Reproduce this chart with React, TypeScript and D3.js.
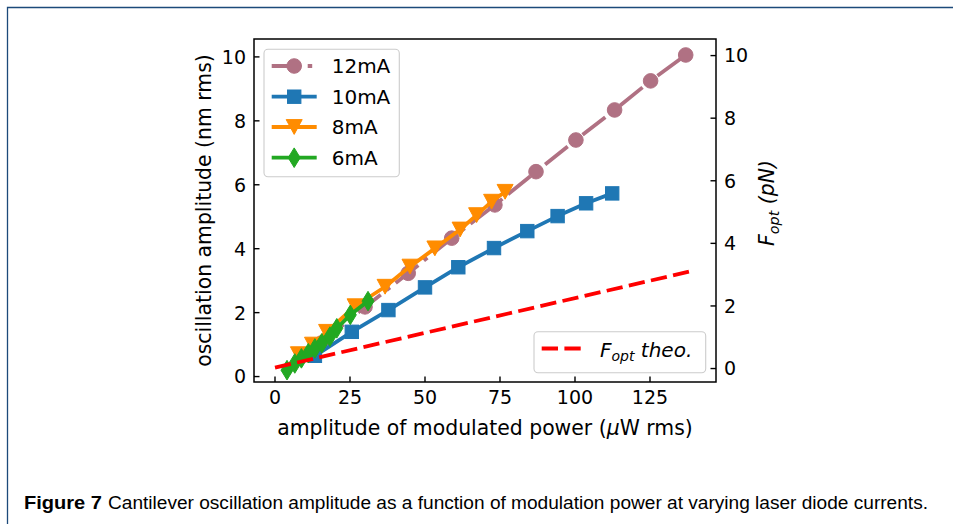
import React from 'react';
import * as d3 from 'd3';

// ---- data ----
const series12X = [15.5, 30, 44.4, 58.9, 73.3, 87, 100.3, 113.2, 125.2, 136.9];
const series12Y = [1.05, 2.18, 3.23, 4.33, 5.37, 6.41, 7.4, 8.34, 9.25, 10.06];
const series10X = [13.3, 25.6, 37.8, 50, 61.1, 73, 84.1, 94.2, 103.7, 112.4];
const series10Y = [0.65, 1.4, 2.08, 2.79, 3.42, 4.02, 4.55, 5.02, 5.42, 5.73];
const series8X = [7.8, 12.5, 17.2, 26.7, 36.7, 45, 53.3, 61.7, 67.2, 72.2, 76.7];
const series8Y = [0.7, 1.0, 1.4, 2.2, 2.81, 3.44, 4.01, 4.6, 5.05, 5.47, 5.78];
const series6X = [4, 6.6, 8.8, 11.1, 13.3, 15.6, 18.3, 20.6, 25.1, 31];
const series6Y = [0.2, 0.41, 0.57, 0.73, 0.88, 1.04, 1.25, 1.51, 1.93, 2.36];
const theoX = [0, 140];
const theoF = [0.03, 3.14];

const xTicks = [0, 25, 50, 75, 100, 125];
const yTicks = [0, 2, 4, 6, 8, 10];
const fTicks = [0, 2, 4, 6, 8, 10];

const seriesLabels = ['12mA', '10mA', '8mA', '6mA'];
const seriesColors = ['#b07183', '#1f77b4', '#ff8c00', '#22a822'];

// ---- layout ----
const W = 953;
const H = 524;
const L = 254, R = 716, T = 39, B = 382;
const FONT = '"DejaVu Sans", sans-serif';
const TICK_FS = 19;
const LABEL_FS = 20.4;

const x = d3.scaleLinear().domain([-7, 147]).range([L, R]);
const yL = d3.scaleLinear().domain([-0.17, 10.56]).range([B, T]);
const yR = d3.scaleLinear().domain([-0.43, 10.53]).range([B, T]);

type Pt = [number, number];
const zip = (a: number[], b: number[]): Pt[] => a.map((v, i) => [v, b[i]]);

const lineL = d3.line<Pt>().x(d => x(d[0])).y(d => yL(d[1]));
const lineR = d3.line<Pt>().x(d => x(d[0])).y(d => yR(d[1]));

const LW = 3.8;
const PINK_DASH = '28.8,7.2,4.5,7.2';
const RED_DASH = '16.3,6.4';

function Marker({ kind, cx, cy, color }: { kind: string; cx: number; cy: number; color: string }) {
  if (kind === 'o') return <circle cx={cx} cy={cy} r={7.3} fill={color} stroke={color} strokeWidth={1} />;
  if (kind === 's') return <rect x={cx - 6.7} y={cy - 6.7} width={13.4} height={13.4} fill={color} stroke={color} strokeWidth={1} />;
  if (kind === 'v') {
    const w = 8.0, h = 7.4;
    return <path d={`M${cx - w},${cy - h}L${cx + w},${cy - h}L${cx},${cy + h}Z`} fill={color} stroke={color} strokeWidth={1} />;
  }
  const w = 6.0, h = 9.8;
  return <path d={`M${cx},${cy - h}L${cx + w},${cy}L${cx},${cy + h}L${cx - w},${cy}Z`} fill={color} stroke={color} strokeWidth={1} />;
}

export default function App() {
  const all = [
    { pts: zip(series12X, series12Y), kind: 'o', dash: PINK_DASH },
    { pts: zip(series10X, series10Y), kind: 's', dash: undefined },
    { pts: zip(series8X, series8Y), kind: 'v', dash: undefined },
    { pts: zip(series6X, series6Y), kind: 'd', dash: undefined },
  ];
  const theo = zip(theoX, theoF);
  const legendY = [66, 96.7, 127, 157.7];

  return (
    <div style={{ position: 'absolute', left: 0, top: 0 }}>
      <svg width={W} height={H} viewBox={`0 0 ${W} ${H}`} style={{ display: 'block', background: '#fff' }}>
        {/* page frame */}
        <path d={`M7.5,${H}V7.5H${W}`} fill="none" stroke="#1c4a7a" strokeWidth={1.3} />

        {/* series */}
        {all.map((s, i) => (
          <g key={i}>
            <path d={lineL(s.pts) || ''} fill="none" stroke={seriesColors[i]} strokeWidth={LW}
              strokeDasharray={s.dash} strokeLinejoin="round" />
            {s.pts.map((p, j) => (
              <Marker key={j} kind={s.kind} cx={x(p[0])} cy={yL(p[1])} color={seriesColors[i]} />
            ))}
          </g>
        ))}

        {/* legend 1 */}
        <rect x={264} y={49.3} width={135.3} height={127.4} rx={4} fill="#fff" fillOpacity={0.8}
          stroke="#cccccc" strokeWidth={1.1} />
        {seriesLabels.map((lab, i) => (
          <g key={lab}>
            <line x1={271.7} x2={316.7} y1={legendY[i]} y2={legendY[i]} stroke={seriesColors[i]}
              strokeWidth={LW} strokeDasharray={all[i].dash} />
            <Marker kind={all[i].kind} cx={294.2} cy={legendY[i]} color={seriesColors[i]} />
            <text x={331.7} y={legendY[i] + 7.3} fontFamily={FONT} fontSize={20} fill="#000">{lab}</text>
          </g>
        ))}

        {/* theoretical force (right axis) */}
        <path d={lineR(theo) || ''} fill="none" stroke="#ff0000" strokeWidth={LW} strokeDasharray={RED_DASH} />

        {/* legend 2 */}
        <rect x={534} y={331.7} width={171.7} height={41} rx={4} fill="#fff" fillOpacity={0.8}
          stroke="#cccccc" strokeWidth={1.1} />
        <line x1={541.7} x2={586.7} y1={348.5} y2={348.5} stroke="#ff0000" strokeWidth={LW} strokeDasharray={RED_DASH} />
        <text x={600} y={356.5} fontFamily={FONT} fontSize={20} fontStyle="italic" fill="#000">
          F<tspan fontSize={14} dy={4.5}>opt</tspan><tspan dy={-4.5}> theo.</tspan>
        </text>

        {/* spines */}
        <rect x={L} y={T} width={R - L} height={B - T} fill="none" stroke="#000" strokeWidth={1.5} />

        {/* x ticks */}
        {xTicks.map(t => (
          <g key={'x' + t}>
            <line x1={x(t)} x2={x(t)} y1={B} y2={B - 5.5} stroke="#000" strokeWidth={1.4} />
            <text x={x(t)} y={404} textAnchor="middle" fontFamily={FONT} fontSize={TICK_FS} fill="#000">{t}</text>
          </g>
        ))}
        {/* left ticks */}
        {yTicks.map(t => (
          <g key={'y' + t}>
            <line x1={L} x2={L + 5.5} y1={yL(t)} y2={yL(t)} stroke="#000" strokeWidth={1.4} />
            <text x={246} y={yL(t) + 6.9} textAnchor="end" fontFamily={FONT} fontSize={TICK_FS} fill="#000">{t}</text>
          </g>
        ))}
        {/* right ticks */}
        {fTicks.map(t => (
          <g key={'f' + t}>
            <line x1={R} x2={R - 5.5} y1={yR(t)} y2={yR(t)} stroke="#000" strokeWidth={1.4} />
            <text x={724} y={yR(t) + 6.9} textAnchor="start" fontFamily={FONT} fontSize={TICK_FS} fill="#000">{t}</text>
          </g>
        ))}

        {/* axis labels */}
        <text x={(L + R) / 2} y={435} textAnchor="middle" fontFamily={FONT} fontSize={LABEL_FS} fill="#000">
          amplitude of modulated power (<tspan fontStyle="italic">μ</tspan>W rms)
        </text>
        <text transform={`translate(211,${(T + B) / 2}) rotate(-90)`} textAnchor="middle" fontFamily={FONT}
          fontSize={LABEL_FS} fill="#000">oscillation amplitude (nm rms)</text>
        <text transform={`translate(774,203) rotate(-90)`} textAnchor="middle" fontFamily={FONT}
          fontSize={LABEL_FS} fontStyle="italic" fill="#000">
          F<tspan fontSize={14.3} dy={4.5}>opt</tspan><tspan dy={-4.5}> (pN)</tspan>
        </text>

        {/* caption */}
        <text x={24} y={509} fontFamily='"Liberation Sans", Arial, sans-serif' fontSize={17.5} fontWeight="bold"
          fill="#000" textLength={78} lengthAdjust="spacingAndGlyphs">Figure 7</text>
        <text x={108} y={509} fontFamily='"Liberation Sans", Arial, sans-serif' fontSize={17.5} fill="#000"
          textLength={820} lengthAdjust="spacingAndGlyphs">
          Cantilever oscillation amplitude as a function of modulation power at varying laser diode currents.
        </text>
      </svg>
    </div>
  );
}
